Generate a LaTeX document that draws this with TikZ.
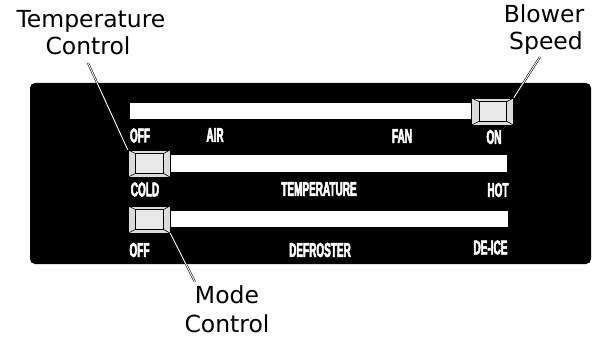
\documentclass[tikz,border=0pt]{standalone}
\usepackage{fontspec}
\setmainfont{DejaVu Sans}
\newfontfamily\lab{Liberation Sans Bold}[FakeStretch=0.5,FakeBold=2.5]
\begin{document}
\begin{tikzpicture}[x=1pt,y=-1pt,
  callout/.style={font=\fontsize{23.5}{28}\selectfont, inner sep=0pt, anchor=base},
  lbl/.style={font=\lab\fontsize{20}{22}\selectfont, text=white, inner sep=0pt},
  bar/.style={fill=white, minimum height=16.5pt, inner sep=0pt, anchor=west},
  knob/.style={draw=black, line width=0.6pt, fill=black!14, minimum width=42pt, minimum height=27pt, inner sep=0pt},
  face/.style={draw=black, line width=1.1pt, fill=black!9},
  bevel/.style={draw=black, line width=0.6pt},
  leader/.style={draw=black, double=white, line width=0.55pt, double distance=0.9pt}]
\useasboundingbox (0,0) rectangle (598,337);
% panel
\node[fill=black, rounded corners=5pt, minimum width=561pt, minimum height=181pt, inner sep=0pt] (panel) at (310.5,173.5) {};
% bars
\node[bar, minimum width=342pt] (bar1) at (130,111) {};
\node[bar, minimum width=337pt] (bar2) at (170,163.5) {};
\node[bar, minimum width=338pt] (bar3) at (170,219) {};
% knobs
\node[knob] (kb) at (492.5,111.5) {};
\node[knob] (kt) at (149,163.5) {};
\node[knob] (km) at (149,219.5) {};
\foreach \k in {kb,kt,km}{
  \draw[face] ([shift={(8,4)}]\k.north west) rectangle ([shift={(-7,-4)}]\k.south east);
  \draw[bevel] (\k.north west) -- ([shift={(8,4)}]\k.north west);
  \draw[bevel] (\k.north east) -- ([shift={(-7,4)}]\k.north east);
  \draw[bevel] (\k.south west) -- ([shift={(8,-4)}]\k.south west);
  \draw[bevel] (\k.south east) -- ([shift={(-7,-4)}]\k.south east);
}
% labels
\node[lbl] (off1) at (140,135.5) {OFF};
\node[lbl] (air) at (215,135) {AIR};
\node[lbl] (fan) at (402,136) {FAN};
\node[lbl] (on) at (494,137) {ON};
\node[lbl] (cold) at (145,189.5) {COLD};
\node[lbl] (temp) at (319,189) {TEMPERATURE};
\node[lbl] (hot) at (498,190) {HOT};
\node[lbl] (off2) at (139.5,250) {OFF};
\node[lbl] (defr) at (320,250) {DEFROSTER};
\node[lbl] (deice) at (490.5,247.5) {DE-ICE};
% callouts
\node[callout] (tc1) at (91,28) {Temperature};
\node[callout] (tc2) at (88,55) {Control};
\node[callout] (bs1) at (544,23) {Blower};
\node[callout] (bs2) at (546,50) {Speed};
\node[callout] (mc1) at (227,303) {Mode};
\node[callout] (mc2) at (227,332) {Control};
% leaders
\coordinate (tcend) at (88,63);
\coordinate (bsend) at (540,57);
\coordinate (mcend) at (195,282);
\draw[leader] (tcend) -- (kt.north west);
\draw[leader] (bsend) -- (kb.north east);
\draw[leader] (mcend) -- (km.south east);
\end{tikzpicture}
\end{document}
